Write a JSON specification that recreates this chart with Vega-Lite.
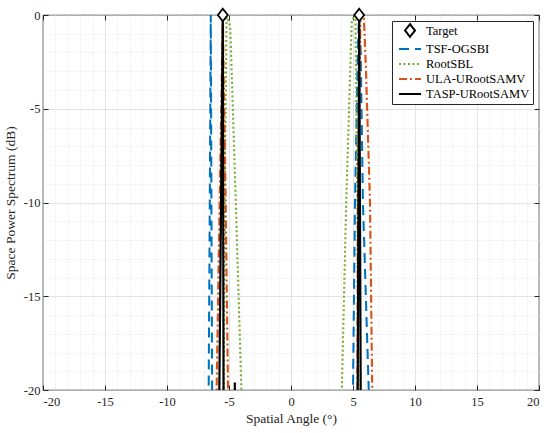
{
  "$schema": "https://vega.github.io/schema/vega-lite/v6.json",
  "width": 496,
  "height": 375,
  "autosize": "none",
  "padding": {"left": 43, "top": 15, "right": 11, "bottom": 43},
  "background": "white",
  "config": {
    "font": "Liberation Serif",
    "view": {"stroke": "#262626", "strokeWidth": 1.2},
    "axis": {
      "labelFont": "Liberation Serif",
      "labelFontSize": 12.5,
      "labelColor": "#262626",
      "titleFont": "Liberation Serif",
      "titleFontSize": 13.5,
      "titleFontWeight": "normal",
      "titleColor": "#262626",
      "domain": false,
      "tickColor": "#262626",
      "tickWidth": 1
    }
  },
  "datasets": {
    "spectra": [
      {"method": "TSF-OGSBI", "angle": -6.75, "power": -30},
      {"method": "TSF-OGSBI", "angle": -6.64, "power": -20},
      {"method": "TSF-OGSBI", "angle": -6.55, "power": -10},
      {"method": "TSF-OGSBI", "angle": -6.47, "power": 0},
      {"method": "TSF-OGSBI", "angle": -6.42, "power": -10},
      {"method": "TSF-OGSBI", "angle": -6.36, "power": -20},
      {"method": "TSF-OGSBI", "angle": -6.3, "power": -30},
      {"method": "TSF-OGSBI", "angle": 4.85, "power": -30},
      {"method": "TSF-OGSBI", "angle": 5.0, "power": -20},
      {"method": "TSF-OGSBI", "angle": 5.16, "power": -10},
      {"method": "TSF-OGSBI", "angle": 5.4, "power": -1.5},
      {"method": "TSF-OGSBI", "angle": 5.5, "power": 0},
      {"method": "TSF-OGSBI", "angle": 5.62, "power": -2},
      {"method": "TSF-OGSBI", "angle": 5.8, "power": -10},
      {"method": "TSF-OGSBI", "angle": 6.27, "power": -20},
      {"method": "TSF-OGSBI", "angle": 6.42, "power": -30},
      {"method": "RootSBL", "angle": -5.5, "power": -30},
      {"method": "RootSBL", "angle": -5.35, "power": -10},
      {"method": "RootSBL", "angle": -5.2, "power": 0},
      {"method": "RootSBL", "angle": -4.9, "power": -0.6},
      {"method": "RootSBL", "angle": -4.45, "power": -10},
      {"method": "RootSBL", "angle": -4.0, "power": -20},
      {"method": "RootSBL", "angle": -3.85, "power": -30},
      {"method": "RootSBL", "angle": 4.0, "power": -30},
      {"method": "RootSBL", "angle": 4.1, "power": -20},
      {"method": "RootSBL", "angle": 4.45, "power": -10},
      {"method": "RootSBL", "angle": 4.9, "power": -0.3},
      {"method": "RootSBL", "angle": 5.2, "power": 0},
      {"method": "RootSBL", "angle": 5.35, "power": -10},
      {"method": "RootSBL", "angle": 5.5, "power": -30},
      {"method": "ULA-URootSAMV", "angle": -6.15, "power": -30},
      {"method": "ULA-URootSAMV", "angle": -6.0, "power": -20},
      {"method": "ULA-URootSAMV", "angle": -5.75, "power": -10},
      {"method": "ULA-URootSAMV", "angle": -5.5, "power": 0},
      {"method": "ULA-URootSAMV", "angle": -5.27, "power": -10},
      {"method": "ULA-URootSAMV", "angle": -5.08, "power": -20},
      {"method": "ULA-URootSAMV", "angle": -4.95, "power": -30},
      {"method": "ULA-URootSAMV", "angle": 5.3, "power": -30},
      {"method": "ULA-URootSAMV", "angle": 5.4, "power": -10},
      {"method": "ULA-URootSAMV", "angle": 5.6, "power": 0},
      {"method": "ULA-URootSAMV", "angle": 5.88, "power": -0.2},
      {"method": "ULA-URootSAMV", "angle": 6.05, "power": -3},
      {"method": "ULA-URootSAMV", "angle": 6.37, "power": -10},
      {"method": "ULA-URootSAMV", "angle": 6.55, "power": -20},
      {"method": "ULA-URootSAMV", "angle": 6.7, "power": -30},
      {"method": "TASP-URootSAMV", "angle": -5.9, "power": -30},
      {"method": "TASP-URootSAMV", "angle": -5.78, "power": -20},
      {"method": "TASP-URootSAMV", "angle": -5.5, "power": 0},
      {"method": "TASP-URootSAMV", "angle": -5.44, "power": -20},
      {"method": "TASP-URootSAMV", "angle": -5.4, "power": -30},
      {"method": "TASP-URootSAMV", "angle": -4.6, "power": -30},
      {"method": "TASP-URootSAMV", "angle": -4.53, "power": -19.6},
      {"method": "TASP-URootSAMV", "angle": -4.46, "power": -30},
      {"method": "TASP-URootSAMV", "angle": 5.3, "power": -30},
      {"method": "TASP-URootSAMV", "angle": 5.38, "power": -20},
      {"method": "TASP-URootSAMV", "angle": 5.5, "power": 0},
      {"method": "TASP-URootSAMV", "angle": 5.62, "power": -20},
      {"method": "TASP-URootSAMV", "angle": 5.7, "power": -30}
    ],
    "targets": [
      {"method": "Target", "angle": -5.5, "power": 0},
      {"method": "Target", "angle": 5.5, "power": 0}
    ]
  },
  "layer": [
    {
      "data": {"name": "spectra"},
      "mark": {"type": "line", "clip": true},
      "encoding": {
        "x": {
          "field": "angle",
          "type": "quantitative",
          "scale": {"domain": [-20, 20], "nice": false},
          "axis": {
            "orient": "bottom",
            "title": "Spatial Angle (°)",
            "values": [-20, -19, -18, -17, -16, -15, -14, -13, -12, -11, -10, -9, -8, -7, -6, -5, -4, -3, -2, -1, 0, 1, 2, 3, 4, 5, 6, 7, 8, 9, 10, 11, 12, 13, 14, 15, 16, 17, 18, 19, 20],
            "labelExpr": "datum.value % 5 === 0 ? '' + datum.value : ''",
            "labelFont": "Liberation Serif",
            "titleFont": "Liberation Serif",
            "labelFontSize": 12.5,
            "titleFontSize": 13.5,
            "titleFontWeight": "normal",
            "tickSize": -5,
            "tickOpacity": {"condition": {"test": "datum.value % 5 === 0", "value": 1}, "value": 0},
            "grid": true,
            "gridColor": {"condition": {"test": "datum.value % 5 === 0", "value": "#dadada"}, "value": "#e4e4e4"},
            "gridDash": {"condition": {"test": "datum.value % 5 === 0", "value": [1, 0]}, "value": [1, 2]},
            "labelPadding": 10,
            "titlePadding": 4
          }
        },
        "y": {
          "field": "power",
          "type": "quantitative",
          "scale": {"domain": [-20, 0], "nice": false, "zero": false},
          "axis": {
            "orient": "left",
            "title": "Space Power Spectrum (dB)",
            "values": [-20, -19, -18, -17, -16, -15, -14, -13, -12, -11, -10, -9, -8, -7, -6, -5, -4, -3, -2, -1, 0],
            "labelExpr": "datum.value % 5 === 0 ? '' + datum.value : ''",
            "labelFont": "Liberation Serif",
            "titleFont": "Liberation Serif",
            "labelFontSize": 12.5,
            "titleFontSize": 13.5,
            "titleFontWeight": "normal",
            "tickSize": -5,
            "tickOpacity": {"condition": {"test": "datum.value % 5 === 0", "value": 1}, "value": 0},
            "grid": true,
            "gridColor": {"condition": {"test": "datum.value % 5 === 0", "value": "#dadada"}, "value": "#e4e4e4"},
            "gridDash": {"condition": {"test": "datum.value % 5 === 0", "value": [1, 0]}, "value": [1, 2]},
            "labelPadding": 8,
            "titlePadding": 6
          }
        },
        "color": {
          "field": "method",
          "type": "nominal",
          "scale": {
            "domain": ["Target", "TSF-OGSBI", "RootSBL", "ULA-URootSAMV", "TASP-URootSAMV"],
            "range": ["black", "#0072BD", "#77AC30", "#D95319", "black"]
          },
          "legend": {
            "title": null,
            "orient": "top-right",
            "offset": 6,
            "padding": 3,
            "strokeColor": "#262626",
            "fillColor": "white",
            "labelFont": "Liberation Serif",
            "labelFontSize": 12.5,
            "labelFontWeight": "normal",
            "labelColor": "black",
            "labelLimit": 200,
            "symbolSize": 121,
            "symbolOffset": 8,
            "rowPadding": 1,
            "labelOffset": 9,
            "encode": {
              "symbols": {
                "update": {
                  "shape": {"signal": "datum.value === 'Target' ? 'M0,-1.15L0.9,0L0,1.15L-0.9,0Z' : 'M-2,0L2,0'"},
                  "size": {"value": 121},
                  "fill": {"signal": "datum.value === 'Target' ? 'white' : 'transparent'"},
                  "strokeWidth": {"signal": "datum.value === 'TASP-URootSAMV' ? 3 : 2"},
                  "strokeDash": {"signal": "datum.value === 'TSF-OGSBI' ? [9, 7] : datum.value === 'RootSBL' ? [2, 2] : datum.value === 'ULA-URootSAMV' ? [6, 3, 2, 3] : [1, 0]"}
                }
              }
            }
          }
        },
        "strokeDash": {
          "field": "method",
          "type": "nominal",
          "scale": {
            "domain": ["Target", "TSF-OGSBI", "RootSBL", "ULA-URootSAMV", "TASP-URootSAMV"],
            "range": [[1, 0], [10, 6], [2, 2.5], [8, 3, 2, 3], [1, 0]]
          },
          "legend": null
        },
        "strokeWidth": {
          "field": "method",
          "type": "nominal",
          "scale": {
            "domain": ["Target", "TSF-OGSBI", "RootSBL", "ULA-URootSAMV", "TASP-URootSAMV"],
            "range": [2, 2.2, 2.2, 1.8, 3]
          },
          "legend": null
        }
      }
    },
    {
      "data": {"name": "targets"},
      "mark": {"type": "point", "shape": "M0,-1.15L0.9,0L0,1.15L-0.9,0Z", "size": 120, "fill": "white", "strokeWidth": 1.8, "opacity": 1, "fillOpacity": 1},
      "encoding": {
        "x": {
          "field": "angle",
          "type": "quantitative",
          "axis": {"orient": "top", "values": [-20, -15, -10, -5, 0, 5, 10, 15, 20], "labels": false, "grid": false, "tickSize": -5, "title": null}
        },
        "y": {
          "field": "power",
          "type": "quantitative",
          "axis": {"orient": "right", "values": [-20, -15, -10, -5, 0], "labels": false, "grid": false, "tickSize": -5, "title": null}
        },
        "color": {"field": "method", "type": "nominal"}
      }
    }
  ],
  "resolve": {"axis": {"x": "independent", "y": "independent"}}
}
